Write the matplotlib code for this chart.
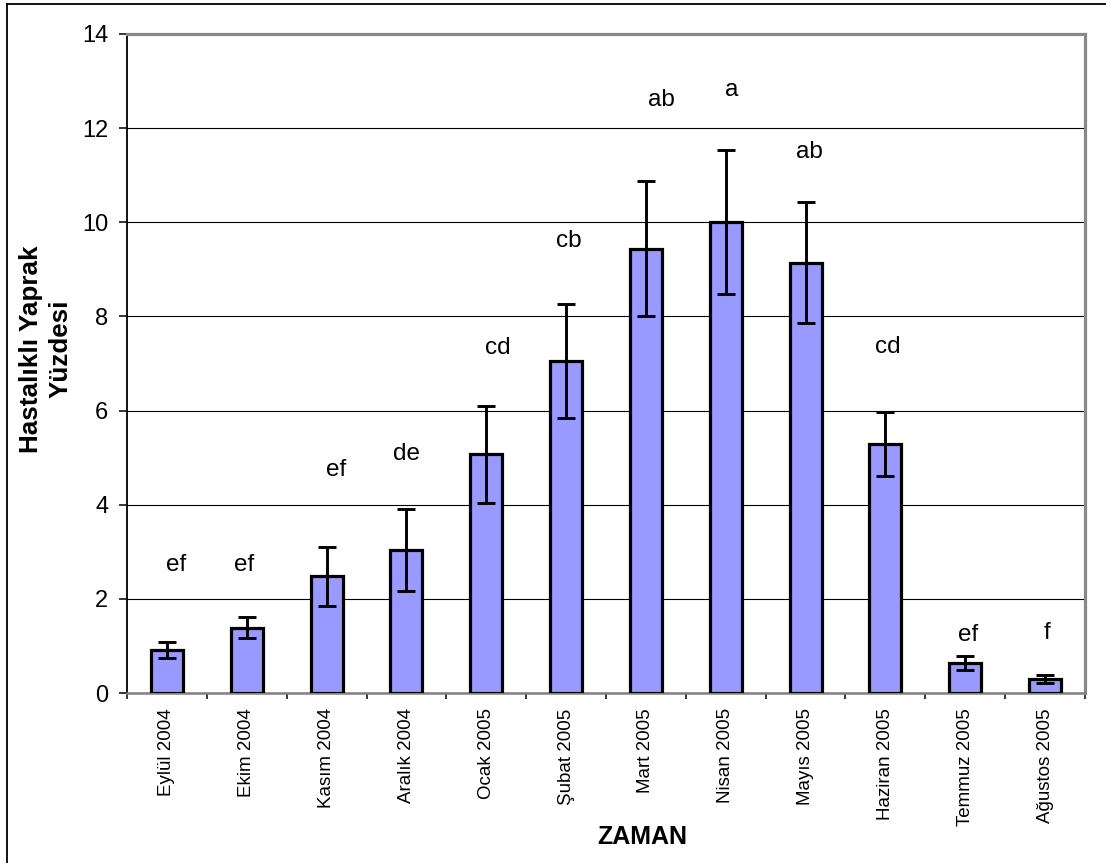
import matplotlib
matplotlib.use("Agg")
import matplotlib.pyplot as plt
from matplotlib.lines import Line2D
import numpy as np

plt.rcParams['font.family'] = ['Liberation Sans', 'DejaVu Sans']

# ---- data ----
months = ["Eylül 2004", "Ekim 2004", "Kasım 2004", "Aralık 2004", "Ocak 2005",
          "Şubat 2005", "Mart 2005", "Nisan 2005", "Mayıs 2005", "Haziran 2005",
          "Temmuz 2005", "Ağustos 2005"]
means = [0.91, 1.39, 2.48, 3.04, 5.07, 7.05, 9.44, 10.01, 9.14, 5.30, 0.64, 0.30]
errors = [0.17, 0.22, 0.63, 0.87, 1.03, 1.21, 1.44, 1.53, 1.29, 0.68, 0.15, 0.08]
letters = ["ef", "ef", "ef", "de", "cd", "cb", "ab", "a", "ab", "cd", "ef", "f"]
y_ticks = [0, 2, 4, 6, 8, 10, 12, 14]

# label placement (baseline heights, horizontal shifts in category units)
letter_y = [2.60, 2.60, 4.60, 4.96, 7.21, 9.47, 12.47, 12.68, 11.36, 7.23, 1.11, 1.15]
letter_dx = [0.11, -0.03, 0.12, 0.0, 0.15, 0.04, 0.20, 0.08, 0.05, 0.03, 0.04, 0.03]

W, H = 1106, 863
fig = plt.figure(figsize=(W / 100, H / 100), dpi=100)
L, R, T, B = 127, 1085, 34, 693
ax = fig.add_axes([L / W, 1 - B / H, (R - L) / W, (B - T) / H])

x = np.arange(len(months))
ax.bar(x, means, width=0.40, color="#9999FF", edgecolor="black", linewidth=2.3, zorder=3)
ax.errorbar(x, means, yerr=errors, fmt="none", ecolor="black", elinewidth=2.1,
            capsize=6.7, capthick=2.1, zorder=4)

for xi, lab, ly, dx in zip(x, letters, letter_y, letter_dx):
    ax.text(xi + dx, ly, lab, ha="center", va="baseline", fontsize=17.5, zorder=5)

ax.set_xlim(-0.5, len(months) - 0.5)
ax.set_ylim(0, 14)
ax.set_yticks(y_ticks)
ax.set_yticklabels([str(v) for v in y_ticks], fontsize=17)
ax.tick_params(axis="y", direction="out", length=5.5, width=1.1, pad=8, colors="black")

ax.set_xticks(x)
ax.set_xticklabels(months, rotation=90, fontsize=13.5, ha="center", va="top")
ax.tick_params(axis="x", which="major", length=0, pad=11)
ax.set_xticks(np.arange(-0.5, len(months), 1.0), minor=True)
ax.tick_params(axis="x", which="minor", direction="out", length=4.5, width=1.1, color="black")

ax.yaxis.grid(True, color="black", linewidth=0.8, zorder=0)
ax.set_axisbelow(True)
ax.spines["left"].set_color("black")
ax.spines["left"].set_linewidth(1.3)
ax.spines["bottom"].set_color("#808080")
ax.spines["bottom"].set_linewidth(1.8)
for s in ("top", "right"):
    ax.spines[s].set_color("#888888")
    ax.spines[s].set_linewidth(2.3)

fig.text(45.5 / W, 1 - 349 / H, "Hastalıklı Yaprak\nYüzdesi", rotation=90,
         ha="center", va="center", fontsize=18.7, fontweight="bold",
         multialignment="center", linespacing=1.3)
fig.text(642 / W, 1 - 837 / H, "ZAMAN", ha="center", va="center",
         fontsize=18, fontweight="bold")

# outer frame (left and top visible)
fig.add_artist(Line2D([7 / W, 7 / W], [0, 1 - 4 / H], transform=fig.transFigure,
                      color="black", linewidth=1.3))
fig.add_artist(Line2D([7 / W, 1], [1 - 4 / H, 1 - 4 / H], transform=fig.transFigure,
                      color="black", linewidth=1.3))

fig.savefig("out.png", dpi=100)
